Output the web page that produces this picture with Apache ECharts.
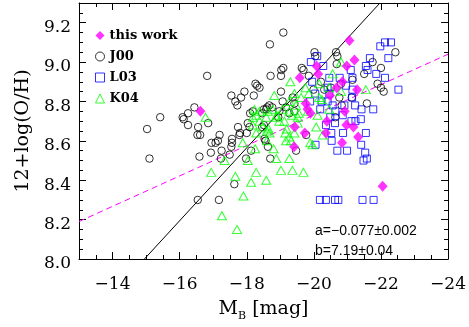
<!DOCTYPE html>
<html><head><meta charset="utf-8">
<script src="https://cdn.jsdelivr.net/npm/echarts@6/dist/echarts.min.js"></script>
<style>html,body{margin:0;padding:0;background:#fff}#c{width:469px;height:327px}</style>
</head><body><div id="c"></div>
<script>
// ---- data (M_B [mag], 12+log(O/H)) ----
const thisWork = [[-21.06,9.11],[-21.21,9.01],[-20.98,8.98],[-20.08,8.98],[-20.13,8.94],[-19.58,8.92],[-20.85,8.90],[-20.68,8.87],[-21.29,8.86],[-20.48,8.83],[-19.76,8.79],[-19.81,8.76],[-19.90,8.74],[-20.92,8.75],[-20.39,8.70],[-19.43,8.67],[-20.97,8.68],[-21.18,8.67],[-19.73,8.64],[-20.36,8.64],[-21.32,8.62],[-20.84,8.59],[-19.41,8.57],[-22.05,8.37],[-16.62,8.75]];

const j00 = [[-16.82,8.93],[-17.54,8.83],[-17.66,8.80],[-17.72,8.78],[-16.44,8.77],[-16.25,8.74],[-15.42,8.72],[-16.09,8.72],[-16.12,8.71],[-16.25,8.68],[-16.55,8.67],[-16.85,8.69],[-15.03,8.66],[-16.53,8.63],[-16.61,8.63],[-17.19,8.63],[-16.95,8.59],[-17.07,8.59],[-17.14,8.60],[-17.56,8.61],[-17.56,8.59],[-17.74,8.67],[-17.80,8.64],[-17.78,8.63],[-16.93,8.54],[-17.25,8.55],[-16.59,8.52],[-17.49,8.53],[-17.54,8.57],[-17.23,8.51],[-15.10,8.51],[-16.54,8.30],[-17.17,8.30],[-17.63,8.38],[-18.00,8.64],[-18.03,8.69],[-18.13,8.55],[-17.98,8.51],[-18.70,8.51],[-18.63,8.57],[-18.53,8.61],[-18.56,8.60],[-18.18,8.75],[-18.10,8.74],[-18.46,8.74],[-18.58,8.76],[-18.97,8.75],[-18.94,8.72],[-19.42,8.75],[-19.47,8.55],[-19.09,9.15],[-18.69,9.09],[-20.02,9.05],[-20.04,9.03],[-20.66,9.05],[-20.70,9.03],[-18.71,8.93],[-19.03,8.96],[-19.09,8.97],[-19.02,8.93],[-19.64,8.97],[-19.69,8.96],[-19.85,8.93],[-18.26,8.89],[-18.31,8.88],[-18.38,8.87],[-17.93,8.85],[-17.83,8.82],[-18.21,8.83],[-19.02,8.85],[-19.99,8.86],[-18.67,8.78],[-18.61,8.77],[-18.51,8.76],[-18.76,8.77],[-18.08,8.67],[-18.51,8.68],[-18.46,8.67],[-19.17,8.77],[-19.27,8.74],[-19.37,8.82],[-20.51,8.87],[-20.81,8.89],[-20.76,8.82],[-20.83,8.78],[-21.75,9.00],[-22.00,8.97],[-22.43,9.05],[-21.50,8.94],[-21.90,8.89],[-22.00,8.87],[-22.08,8.85],[-21.58,8.79],[-20.64,8.72],[-20.68,8.99],[-21.15,8.91],[-21.13,8.82],[-20.21,8.90],[-20.31,8.86],[-19.07,8.80],[-19.42,8.79],[-19.77,8.63]];

const l03 = [[-21.98,9.08],[-22.12,9.10],[-22.30,9.10],[-22.22,9.02],[-21.67,9.02],[-21.55,8.98],[-21.60,8.96],[-21.86,8.94],[-22.12,8.92],[-22.52,8.86],[-19.91,9.00],[-20.28,8.98],[-20.10,9.03],[-21.10,8.96],[-20.46,8.92],[-20.77,8.92],[-21.15,8.92],[-19.95,8.90],[-20.96,8.88],[-20.46,8.84],[-20.41,8.87],[-21.15,8.86],[-21.14,8.82],[-20.41,8.80],[-20.23,8.80],[-19.89,8.80],[-21.23,8.78],[-21.42,8.76],[-21.77,8.76],[-20.64,8.75],[-20.91,8.78],[-20.49,8.72],[-20.86,8.73],[-20.36,8.68],[-20.63,8.69],[-21.24,8.70],[-21.12,8.70],[-20.52,8.64],[-20.87,8.64],[-21.55,8.64],[-20.53,8.60],[-20.05,8.58],[-21.41,8.58],[-20.70,8.55],[-20.99,8.55],[-21.53,8.54],[-21.58,8.51],[-21.48,8.50],[-20.18,8.30],[-20.36,8.30],[-20.63,8.30],[-20.73,8.30],[-21.45,8.30],[-21.78,8.30],[-21.40,8.71],[-20.56,8.78],[-20.19,8.76],[-20.04,8.84]];

const k04 = [[-16.77,8.72],[-16.94,8.44],[-17.26,8.22],[-17.71,8.15],[-17.34,8.50],[-17.66,8.42],[-17.90,8.32],[-18.03,8.50],[-18.13,8.39],[-18.28,8.44],[-18.58,8.40],[-19.02,8.45],[-19.36,8.45],[-19.69,8.44],[-18.88,8.51],[-19.27,8.51],[-17.88,8.59],[-18.25,8.56],[-18.80,8.56],[-18.60,8.60],[-18.60,8.65],[-18.28,8.64],[-18.18,8.68],[-18.38,8.70],[-18.48,8.67],[-18.65,8.66],[-18.97,8.70],[-19.12,8.70],[-19.19,8.66],[-19.42,8.64],[-19.27,8.62],[-19.17,8.60],[-19.52,8.69],[-18.89,8.73],[-18.28,8.73],[-18.38,8.75],[-18.63,8.75],[-18.77,8.76],[-19.27,8.75],[-19.55,8.74],[-19.30,8.90],[-18.82,8.83],[-19.42,8.84],[-19.75,8.87],[-19.85,8.84],[-19.62,8.82],[-20.16,8.82],[-19.27,8.80],[-19.47,8.78],[-19.07,8.76],[-18.23,8.76],[-18.58,8.72],[-18.18,8.72],[-18.88,8.72],[-19.35,8.73],[-19.52,8.72],[-19.82,8.75],[-20.07,8.67],[-20.81,9.00],[-20.56,8.94],[-20.16,8.89],[-20.46,8.87],[-20.81,8.85],[-21.55,8.86],[-20.11,8.73],[-20.26,8.63],[-19.96,8.58],[-19.89,8.59],[-19.32,8.60],[-19.15,8.64],[-20.46,8.76],[-20.24,8.81],[-18.68,8.64]];

const relationLine = [[-14.95,8.00],[-21.97,9.30]];
const fitLine = [[-13.0,8.19],[-24.0,9.04]];
const fitText = ['a=\u22120.077\u00b10.002', 'b=7.19\u00b10.04'];
const legendNames = ['this work','J00','L03','K04'];
const xRange = [-24,-13], xMajor = 2, xMinor = 0.5;
const yRange = [8.0,9.3], yMajor = 0.2, yMinor = 0.05;

// ---- chart ----
const serif = '"DejaVu Serif", serif';
const chart = echarts.init(document.getElementById('c'));
function xAx(pos, major, labels){
  return {type:'value', gridIndex:0, position:pos, inverse:true, min:xRange[0], max:xRange[1],
    interval: major ? xMajor : xMinor,
    axisLine:{show: major, onZero:false, lineStyle:{color:'#000', width:1}},
    axisTick:{show:true, inside:true, length: major?7:4, lineStyle:{color:'#000', width:1}},
    axisLabel:{show:labels, margin:17, showMaxLabel:false, color:'#000', fontFamily:serif, fontSize:17,
      formatter:v=> v<0 ? '\u2212'+Math.abs(v) : String(v)},
    splitLine:{show:false}};
}
function yAx(pos, major, labels){
  return {type:'value', gridIndex:0, position:pos, min:yRange[0], max:yRange[1],
    interval: major ? yMajor : yMinor,
    axisLine:{show: major, onZero:false, lineStyle:{color:'#000', width:1}},
    axisTick:{show:true, inside:true, length: major?7:4, lineStyle:{color:'#000', width:1}},
    axisLabel:{show:labels, margin:8, showMaxLabel:false, color:'#000', fontFamily:serif, fontSize:17,
      verticalAlign:'top', lineHeight:10, formatter:v=>v.toFixed(1)},
    splitLine:{show:false}};
}
const xAxes = [xAx('bottom',true,true), xAx('bottom',false,false), xAx('top',true,false), xAx('top',false,false)];
xAxes[0].name = '{m|M}{s|B}{m| [mag]}';
xAxes[0].nameLocation = 'middle';
xAxes[0].nameGap = 41;
xAxes[0].nameTextStyle = {color:'#000', fontFamily:serif, rich:{
  m:{fontSize:19, fontFamily:serif, color:'#000', lineHeight:22, verticalAlign:'top'},
  s:{fontSize:11, fontFamily:serif, color:'#000', lineHeight:8, verticalAlign:'bottom'}}};
const yAxes = [yAx('left',true,true), yAx('left',false,false), yAx('right',true,false), yAx('right',false,false)];
yAxes[0].name = '12+log(O/H)';
yAxes[0].nameLocation = 'middle';
yAxes[0].nameGap = 46;
yAxes[0].nameTextStyle = {color:'#000', fontFamily:serif, fontSize:19};

const common = {type:'scatter', xAxisIndex:0, yAxisIndex:0, emphasis:{disabled:true}, silent:true};
chart.setOption({
  animation:false,
  backgroundColor:'#fff',
  grid:{left:79, right:20, top:3, bottom:64, containLabel:false},
  xAxis:xAxes, yAxis:yAxes,
  legend:{orient:'vertical', left:90, top:24, itemWidth:9, itemHeight:9, itemGap:8,
    itemStyle:{borderWidth:1},
    data:legendNames, textStyle:{fontFamily:serif, fontSize:13, fontWeight:'bold', color:'#000'}, selectedMode:false},
  graphic:[
    {type:'text', x:315, y:231, style:{text:fitText[0], font:'14px "Liberation Sans"', fill:'#000', verticalAlign:'middle'}},
    {type:'text', x:315, y:251, style:{text:fitText[1], font:'14px "Liberation Sans"', fill:'#000', verticalAlign:'middle'}}
  ],
  series:[
    {type:'line', data:relationLine, xAxisIndex:0, yAxisIndex:0, symbol:'none', silent:true,
      lineStyle:{color:'#000', width:1}, z:1},
    {type:'line', data:fitLine, xAxisIndex:0, yAxisIndex:0, symbol:'none', silent:true,
      lineStyle:{color:'#ff00ff', width:1, type:[6,4]}, z:1},
    Object.assign({}, common, {name:'J00', data:j00, symbol:'circle', symbolSize:7.5,
      itemStyle:{color:'rgba(0,0,0,0)', borderColor:'#000', borderWidth:1}, z:2}),
    Object.assign({}, common, {name:'L03', data:l03, symbol:'rect', symbolSize:7,
      itemStyle:{color:'rgba(0,0,0,0)', borderColor:'#0000ff', borderWidth:1}, z:3}),
    Object.assign({}, common, {name:'K04', data:k04, symbol:'triangle', symbolSize:[9,8],
      itemStyle:{color:'rgba(0,0,0,0)', borderColor:'#00ff00', borderWidth:1}, z:4}),
    Object.assign({}, common, {name:'this work', data:thisWork, symbol:'diamond', symbolSize:[10,11],
      itemStyle:{color:'#ff00ff'}, z:5})
  ]
});
</script></body></html>
